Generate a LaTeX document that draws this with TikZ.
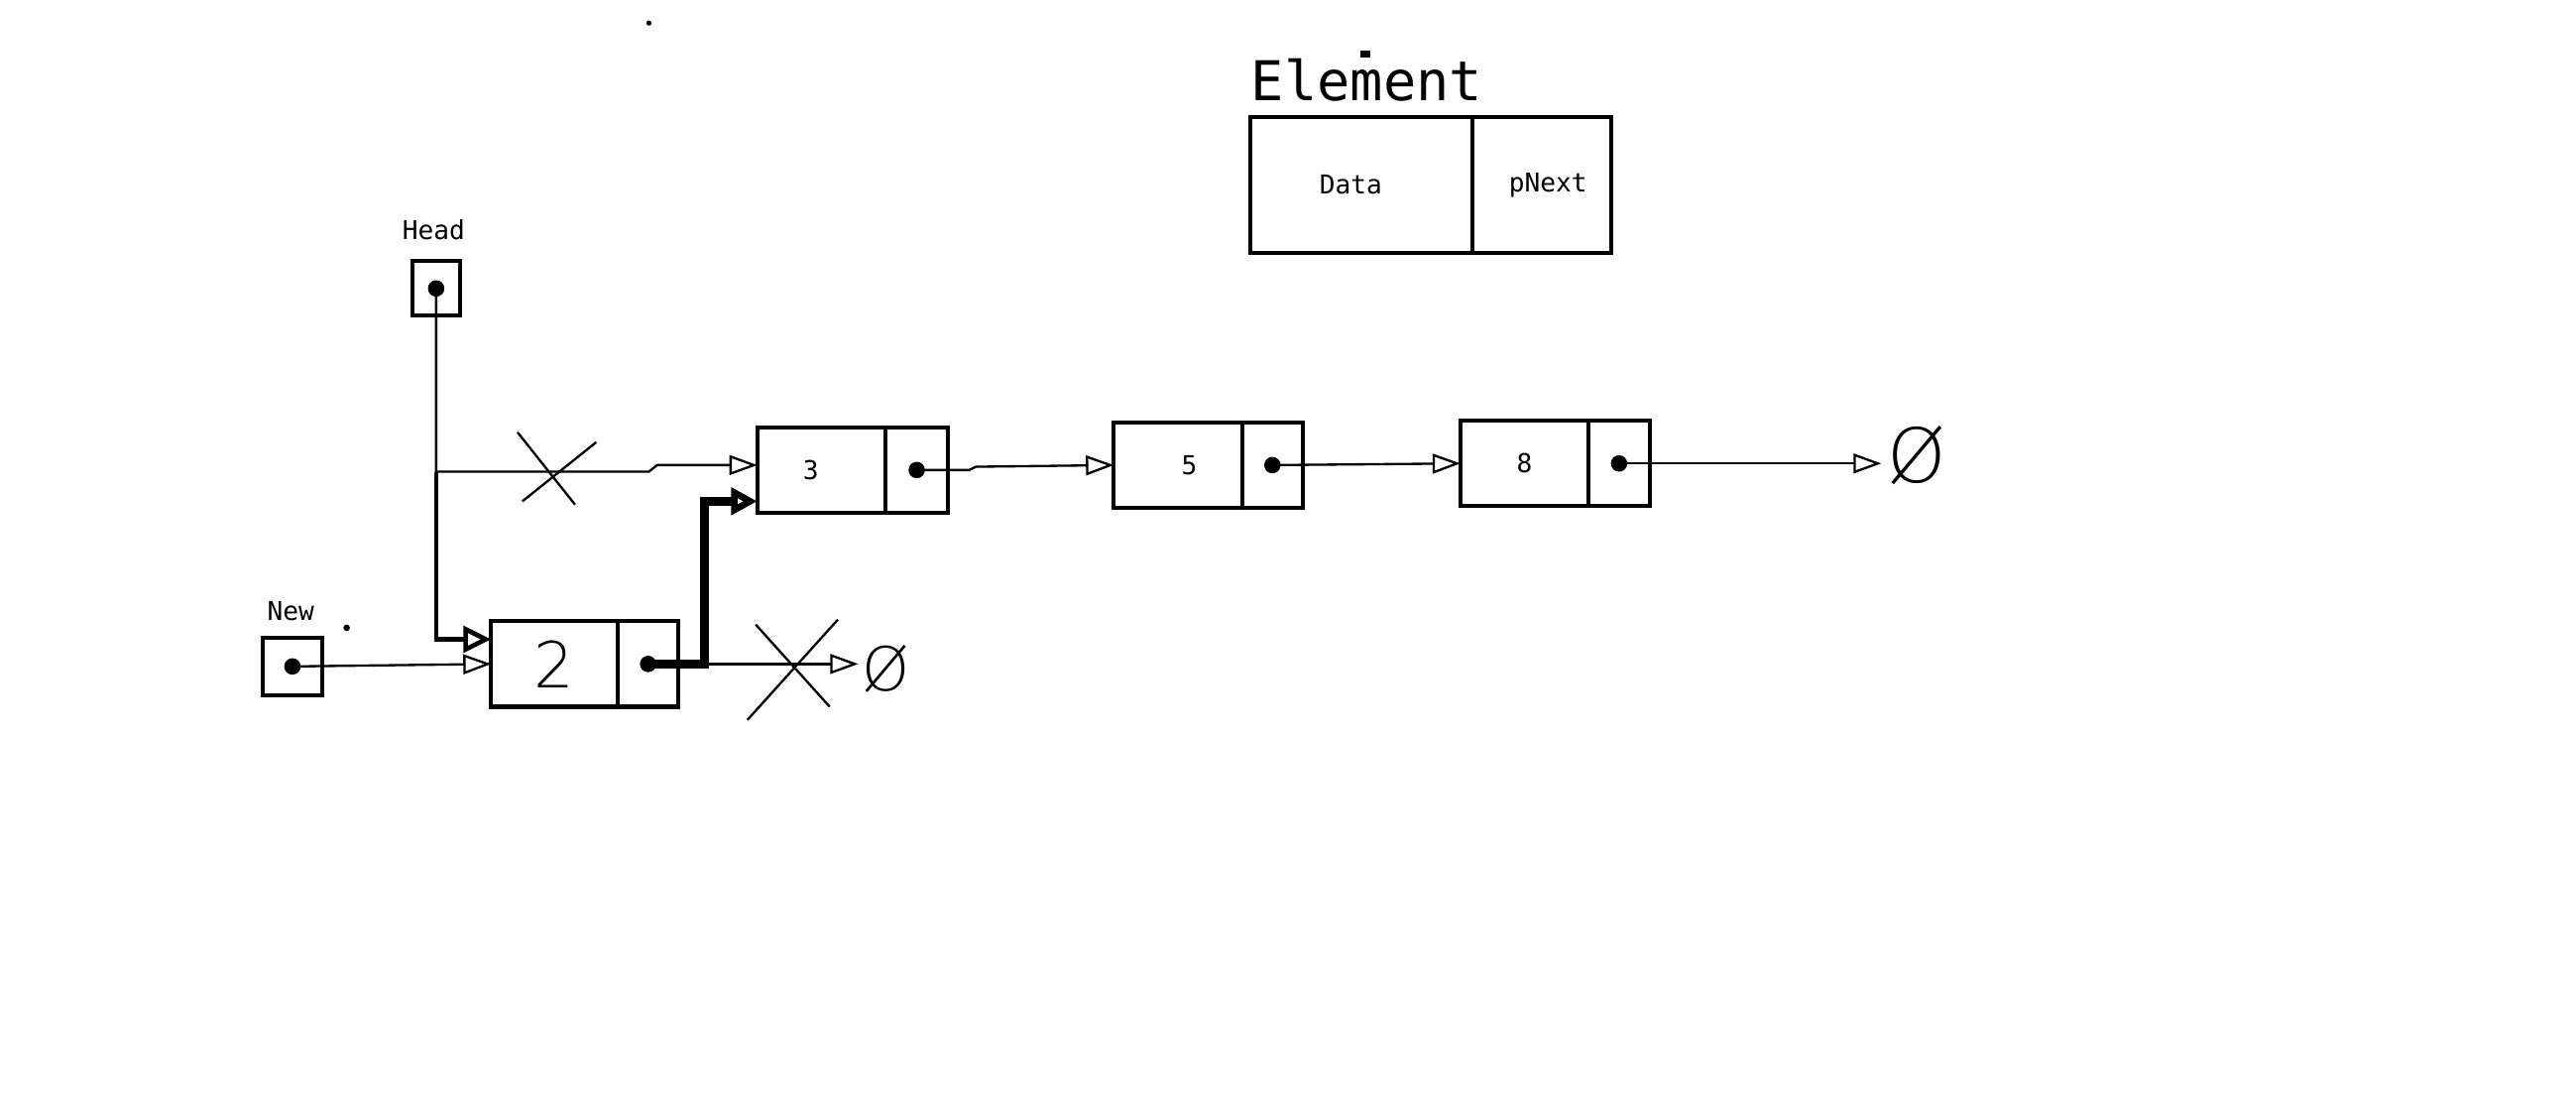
\documentclass[tikz,border=0pt]{standalone}
\usepackage{fontspec}
\newfontfamily\monof{DejaVu Sans Mono}
\newfontfamily\lightf{DejaVu Sans ExtraLight}
\usetikzlibrary{arrows.meta,calc}
\tikzset{
  cellbox/.style 2 args={draw, line width=1.4pt, minimum width={#1*0.02cm}, minimum height={#2*0.02cm}, inner sep=0pt, outer sep=0pt, anchor=north west},
  ptrdot/.style={circle, fill=black, inner sep=0pt, outer sep=0pt, minimum size={10*0.02cm}},
  wire/.style={line width=0.8pt, -{Triangle[open, length=3.4mm, width=2.4mm]}},
  plainwire/.style={line width=0.8pt},
  boldwire/.style={line width=3pt, -{Triangle[open, length=3.2mm, width=3.2mm]}},
  medwire/.style={line width=1.6pt, -{Triangle[open, length=3.4mm, width=3.2mm]}},
  cross/.style={line width=0.8pt},
  lbl/.style={font=\monof\fontsize{9}{11}\selectfont, inner sep=0pt},
  nullsym/.style={font=\lightf\fontsize{#1}{#1}\selectfont, inner sep=0pt},
}
\begin{document}
\begin{tikzpicture}[x=0.02cm, y=-0.02cm, font=\monof\fontsize{9}{11}\selectfont]
\useasboundingbox (0,0) rectangle (1568,672);

% legend
\node[font=\monof\fontsize{19}{22}\selectfont, inner sep=0pt] (elt) at (832,49) {Element};
\node[cellbox={135}{83}] (ld) at (761,71) {Data\kern0.25cm};
\node[cellbox={85}{83}] (lp) at (ld.north east) {\kern0.15cm pNext};

% head and new pointers
\node[lbl] (headlbl) at (264,140) {Head};
\node[cellbox={29}{33}] (hb) at (251,159) {};
\node[ptrdot] (hd) at (hb.center) {};
\node[lbl] (newlbl) at (177,372) {New};
\node[cellbox={36}{35}] (nb) at (160,388) {};
\node[ptrdot] (nd) at (nb.center) {};

% list elements
\node[cellbox={78}{52}] (d3) at (461,260) {3\kern0.26cm};
\node[cellbox={38}{52}] (p3) at (d3.north east) {};
\node[ptrdot] (q3) at (p3.center) {};

\node[cellbox={78}{52}] (d5) at (678,257) {\kern0.28cm 5};
\node[cellbox={37}{52}] (p5) at (d5.north east) {};
\node[ptrdot] (q5) at (p5.center) {};

\node[cellbox={78}{52}] (d8) at (889,256) {8};
\node[cellbox={37}{52}] (p8) at (d8.north east) {};
\node[ptrdot] (q8) at (p8.center) {};

\node[cellbox={77}{52}] (d2) at (299,378) {\lightf\fontsize{22}{22}\selectfont 2};
\node[cellbox={37}{52}] (p2) at (d2.north east) {};
\node[ptrdot] (q2) at (p2.center) {};

% null symbols
\node[nullsym=26] (nul8) at (1167,277) {Ø};
\node[nullsym=21] (nul2) at (539,407) {Ø};

% connectors
\coordinate (hj) at (hd.center |- 0,287);
\draw[wire] (hd.center) -- (hj) -- (395,287) -- (400,283) -- ($(d3.west)+(0,-3)$);
\draw[medwire] (hj) -- (hj |- 0,389) -- ($(d2.west)+(0,-15)$);
\draw[wire] (nd.center) -- (d2.west);

\coordinate (tj) at (q2.center -| 429,0);
\draw[plainwire] (tj) -- ++(22,0) coordinate (tj2);
\draw[wire, shorten >=1pt] (tj2) -- (tj -| nul2.west);
\draw[boldwire] (q2.center) -- (tj) -- ($(tj |- d3.west)+(0,19)$) -- ($(d3.west)+(0,19)$);

\draw[wire] (q3.center) -- ++(32,0) -- ++(4,-2) -- (d5.west);
\draw[wire] (q5.center) -- (d8.west);
\draw[wire, shorten >=2pt] (q8.center) -- (q8.center -| nul8.west);

% crosses
\draw[cross] (315,263) -- (350,307);
\draw[cross] (363,269) -- (318,305);
\draw[cross] (455,438) -- (510,377);
\draw[cross] (460,380) -- (505,430);

% stray marks
\fill (395,14) circle (1.6);
\fill (211,382) circle (2);
\fill (828,31) rectangle (834,35);
\end{tikzpicture}
\end{document}
